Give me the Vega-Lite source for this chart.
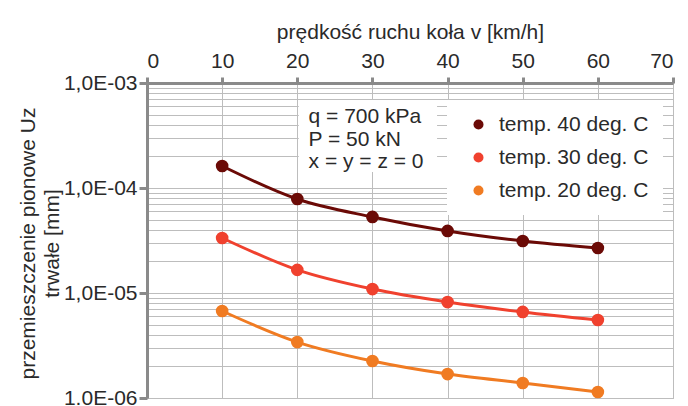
{
  "$schema": "https://vega.github.io/schema/vega-lite/v6.json",
  "width": 526,
  "height": 315,
  "autosize": {"type": "none"},
  "padding": {"left": 147, "top": 83, "right": 15, "bottom": 8},
  "background": "white",
  "config": {
    "font": "Liberation Sans",
    "view": {"stroke": "#b0b0b0", "strokeWidth": 1},
    "axis": {"labelFont": "Liberation Sans", "titleFont": "Liberation Sans", "labelColor": "#2a2a2a", "titleColor": "#2a2a2a", "titleFontWeight": "normal", "labelFontSize": 21, "titleFontSize": 21, "gridColor": "#bdbdbd", "gridWidth": 1, "gridOpacity": 1, "domainColor": "#8a8a8a", "domainWidth": 3, "tickColor": "#8a8a8a", "tickWidth": 3}
  },
  "resolve": {"legend": {"color": "independent"}},
  "datasets": {
    "series": [
      {"v": 10, "uz": 0.000162, "temp": "temp. 40 deg. C"},
      {"v": 20, "uz": 0.0000785, "temp": "temp. 40 deg. C"},
      {"v": 30, "uz": 0.000053, "temp": "temp. 40 deg. C"},
      {"v": 40, "uz": 0.000039, "temp": "temp. 40 deg. C"},
      {"v": 50, "uz": 0.0000313, "temp": "temp. 40 deg. C"},
      {"v": 60, "uz": 0.0000268, "temp": "temp. 40 deg. C"},
      {"v": 10, "uz": 0.0000334, "temp": "temp. 30 deg. C"},
      {"v": 20, "uz": 0.0000166, "temp": "temp. 30 deg. C"},
      {"v": 30, "uz": 0.0000109, "temp": "temp. 30 deg. C"},
      {"v": 40, "uz": 0.0000082, "temp": "temp. 30 deg. C"},
      {"v": 50, "uz": 0.0000066, "temp": "temp. 30 deg. C"},
      {"v": 60, "uz": 0.00000553, "temp": "temp. 30 deg. C"},
      {"v": 10, "uz": 0.00000674, "temp": "temp. 20 deg. C"},
      {"v": 20, "uz": 0.00000341, "temp": "temp. 20 deg. C"},
      {"v": 30, "uz": 0.00000225, "temp": "temp. 20 deg. C"},
      {"v": 40, "uz": 0.00000169, "temp": "temp. 20 deg. C"},
      {"v": 50, "uz": 0.00000139, "temp": "temp. 20 deg. C"},
      {"v": 60, "uz": 0.00000114, "temp": "temp. 20 deg. C"}
    ],
    "box": [{"x1": 20.2, "x2": 38.6, "y1": 0.00069, "y2": 0.000142}],
    "notes": [
      {"x": 21.5, "y": 0.000474, "t": "q = 700 kPa"},
      {"x": 21.5, "y": 0.000286, "t": "P = 50 kN"},
      {"x": 21.5, "y": 0.000177, "t": "x = y = z = 0"}
    ]
  },
  "layer": [
    {
      "data": {"name": "box"},
      "mark": {"type": "rect", "fill": "white", "stroke": null},
      "encoding": {
        "x": {"field": "x1", "type": "quantitative", "scale": {"domain": [0, 70]},
          "axis": {"orient": "top", "values": [0, 10, 20, 30, 40, 50, 60, 70], "title": "prędkość ruchu koła v [km/h]", "titlePadding": 8, "labelPadding": 6, "tickSize": 6, "grid": true}},
        "x2": {"field": "x2"},
        "y": {"field": "y1", "type": "quantitative", "scale": {"type": "log", "domain": [0.000001, 0.001]},
          "axis": {
            "values": [0.000001, 0.000002, 0.000003, 0.000004, 0.000005, 0.000006, 0.000007, 0.000008, 0.000009, 0.00001, 0.00002, 0.00003, 0.00004, 0.00005, 0.00006, 0.00007, 0.00008, 0.00009, 0.0001, 0.0002, 0.0003, 0.0004, 0.0005, 0.0006, 0.0007, 0.0008, 0.0009, 0.001],
            "labelExpr": "abs(log(datum.value)/LN10 - round(log(datum.value)/LN10)) < 0.01 ? (round(log(datum.value)/LN10) == -6 ? '1.0E-06' : '1,0E-0' + (-round(log(datum.value)/LN10))) : ''",
            "tickSize": {"condition": {"test": "abs(log(datum.value)/LN10 - round(log(datum.value)/LN10)) < 0.01", "value": 8}, "value": 0},
            "labelPadding": 2,
            "grid": true,
            "title": ["przemieszczenie pionowe Uz", "trwałe [mm]"],
            "titleX": -109,
            "titleY": 160,
            "titleLineHeight": 24
          }},
        "y2": {"field": "y2"}
      }
    },
    {
      "data": {"name": "notes"},
      "mark": {"type": "text", "align": "left", "baseline": "middle", "fontSize": 21, "color": "#2a2a2a", "font": "Liberation Sans"},
      "encoding": {
        "x": {"field": "x", "type": "quantitative"},
        "y": {"field": "y", "type": "quantitative"},
        "text": {"field": "t"}
      }
    },
    {
      "data": {"name": "series"},
      "mark": {"type": "line", "interpolate": "monotone", "strokeWidth": 3},
      "encoding": {
        "x": {"field": "v", "type": "quantitative"},
        "y": {"field": "uz", "type": "quantitative"},
        "color": {"field": "temp", "type": "nominal", "legend": null,
          "scale": {"domain": ["temp. 40 deg. C", "temp. 30 deg. C", "temp. 20 deg. C"], "range": ["#6b0a06", "#f0412e", "#f07b22"]}}
      }
    },
    {
      "data": {"name": "series"},
      "mark": {"type": "point", "filled": true, "opacity": 1, "size": 160},
      "encoding": {
        "x": {"field": "v", "type": "quantitative"},
        "y": {"field": "uz", "type": "quantitative"},
        "color": {"field": "temp", "type": "nominal",
          "scale": {"domain": ["temp. 40 deg. C", "temp. 30 deg. C", "temp. 20 deg. C"], "range": ["#6b0a06", "#f0412e", "#f07b22"]},
          "legend": {"title": null, "orient": "none", "legendX": 300, "legendY": 17, "fillColor": "white", "padding": 14, "symbolSize": 100, "symbolType": "circle", "symbolOpacity": 1, "labelFontSize": 21, "labelFont": "Liberation Sans", "labelColor": "#2a2a2a", "rowPadding": 11, "labelOffset": 10, "symbolOffset": 7, "labelLimit": 300}}
      }
    }
  ]
}
